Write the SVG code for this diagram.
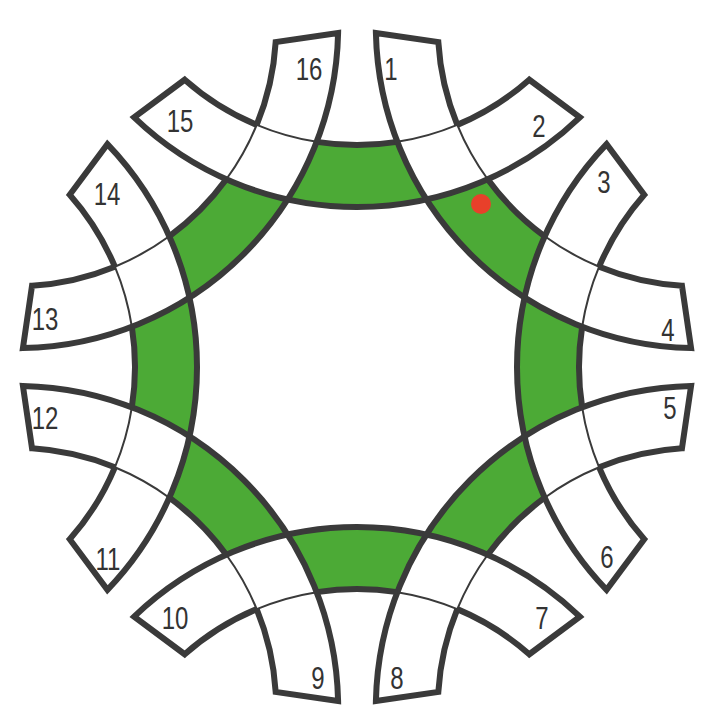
<svg xmlns="http://www.w3.org/2000/svg" xmlns:xlink="http://www.w3.org/1999/xlink" width="715" height="716" viewBox="0 0 715 716">
<defs>
<style>
.green{fill:#4caa36;stroke:none}
.thick{fill:none;stroke:#3a3a3a;stroke-width:6;stroke-linejoin:miter;stroke-miterlimit:10}
.thin{fill:none;stroke:#3a3a3a;stroke-width:2}
.lbl{font-family:"Liberation Sans",Arial,sans-serif;font-size:32px;fill:#333;text-anchor:middle}
</style>
<path id="g0" class="green" d="M316.68,141.85 A260,260 0 0 0 397.32,141.85 A322,322 0 0 0 426.41,199.43 A322,322 0 0 1 287.59,199.43 A322,322 0 0 0 316.68,141.85 Z"/>
<g id="b0">
<path class="thick" d="M457.29,124.88 A260,260 0 0 0 529.28,79.73 L579.87,117.41 A322,322 0 0 1 134.13,117.41 L184.72,79.73 A260,260 0 0 0 256.71,124.88 M316.68,141.85 A260,260 0 0 0 397.32,141.85"/>
<path class="thin" d="M256.71,124.88 A260,260 0 0 0 316.68,141.85 M397.32,141.85 A260,260 0 0 0 457.29,124.88"/>
</g>
</defs>
<rect width="715" height="716" fill="#fff"/>
<g id="green-cells">
<use xlink:href="#g0"/>
<use xlink:href="#g0" transform="rotate(45 357 367)"/>
<use xlink:href="#g0" transform="rotate(90 357 367)"/>
<use xlink:href="#g0" transform="rotate(135 357 367)"/>
<use xlink:href="#g0" transform="rotate(180 357 367)"/>
<use xlink:href="#g0" transform="rotate(225 357 367)"/>
<use xlink:href="#g0" transform="rotate(270 357 367)"/>
<use xlink:href="#g0" transform="rotate(315 357 367)"/>
</g>
<g id="bands">
<g id="band-15-2"><use xlink:href="#b0"/></g>
<g id="band-1-4"><use xlink:href="#b0" transform="rotate(45 357 367)"/></g>
<g id="band-3-6"><use xlink:href="#b0" transform="rotate(90 357 367)"/></g>
<g id="band-5-8"><use xlink:href="#b0" transform="rotate(135 357 367)"/></g>
<g id="band-7-10"><use xlink:href="#b0" transform="rotate(180 357 367)"/></g>
<g id="band-9-12"><use xlink:href="#b0" transform="rotate(225 357 367)"/></g>
<g id="band-11-14"><use xlink:href="#b0" transform="rotate(270 357 367)"/></g>
<g id="band-13-16"><use xlink:href="#b0" transform="rotate(315 357 367)"/></g>
</g>
<circle id="marker-dot" cx="481" cy="204" r="10" fill="#e8402a"/>
<g id="labels">
<text class="lbl" transform="translate(391,80) scale(0.75,1)">1</text>
<text class="lbl" transform="translate(539,137) scale(0.75,1)">2</text>
<text class="lbl" transform="translate(604,193) scale(0.75,1)">3</text>
<text class="lbl" transform="translate(668,341) scale(0.75,1)">4</text>
<text class="lbl" transform="translate(670,419) scale(0.75,1)">5</text>
<text class="lbl" transform="translate(607,568) scale(0.75,1)">6</text>
<text class="lbl" transform="translate(542,629) scale(0.75,1)">7</text>
<text class="lbl" transform="translate(397,689) scale(0.75,1)">8</text>
<text class="lbl" transform="translate(318,689) scale(0.75,1)">9</text>
<text class="lbl" transform="translate(175,629) scale(0.75,1)">10</text>
<text class="lbl" transform="translate(108,570) scale(0.75,1)">11</text>
<text class="lbl" transform="translate(45,429) scale(0.75,1)">12</text>
<text class="lbl" transform="translate(45,330) scale(0.75,1)">13</text>
<text class="lbl" transform="translate(107,205) scale(0.75,1)">14</text>
<text class="lbl" transform="translate(180,132) scale(0.75,1)">15</text>
<text class="lbl" transform="translate(309,80) scale(0.75,1)">16</text>
</g>
</svg>
